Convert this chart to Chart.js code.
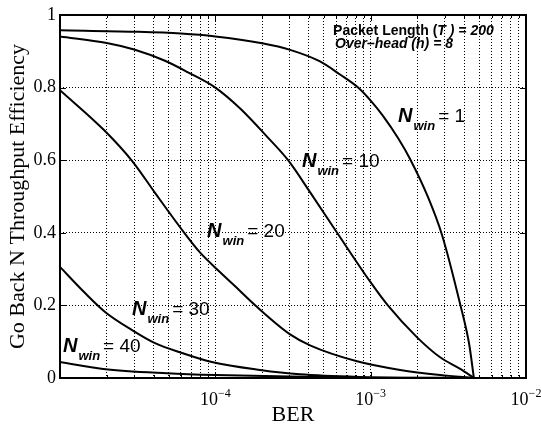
<!DOCTYPE html>
<html>
<head>
<meta charset="utf-8">
<script src="https://cdn.jsdelivr.net/npm/chart.js@4"></script>
<style>
  html, body { margin: 0; padding: 0; background: #fff; }
  canvas { display: block; }
</style>
</head>
<body>
<canvas id="effChart" width="541" height="426"></canvas>
<script>
// readings: BER (x) and throughput efficiency (y) per window size
var winSizes = [1, 10, 20, 30, 40];

var ber1 = [1e-5, 3e-5, 6e-5, 1e-4, 2e-4, 3.03e-4, 4.72e-4, 6.35e-4, 8.3e-4, 1e-3, 1.2e-3, 1.5e-3, 1.8e-3, 2.34e-3, 2.88e-3, 3.77e-3, 4.3e-3, 4.62e-3];
var eff1 = [0.958, 0.954, 0.949, 0.941, 0.922, 0.904, 0.872, 0.836, 0.80, 0.764, 0.722, 0.661, 0.602, 0.498, 0.394, 0.203, 0.095, 0];

var ber10 = [1e-5, 2e-5, 3e-5, 4.74e-5, 6.67e-5, 1e-4, 1.44e-4, 2.15e-4, 2.94e-4, 4.07e-4, 6.08e-4, 9.9e-4, 1.29e-3, 1.99e-3, 2.8e-3, 3.77e-3, 4.62e-3];
var eff10 = [0.941, 0.923, 0.905, 0.874, 0.842, 0.80, 0.743, 0.665, 0.60, 0.512, 0.40, 0.266, 0.20, 0.112, 0.057, 0.025, 0];

var ber20 = [1e-5, 1.92e-5, 2.95e-5, 4.09e-5, 6.31e-5, 7.96e-5, 1.07e-4, 1.3e-4, 1.85e-4, 3.03e-4, 4.07e-4, 8.17e-4, 1.55e-3, 2.8e-3, 4.62e-3];
var eff20 = [0.793, 0.683, 0.595, 0.51, 0.40, 0.346, 0.292, 0.258, 0.196, 0.12, 0.09, 0.046, 0.022, 0.008, 0];

var ber30 = [1e-5, 1.45e-5, 1.95e-5, 2.91e-5, 4.09e-5, 6.1e-5, 9.5e-5, 1.94e-4, 3.5e-4, 8.5e-4, 4.62e-3];
var eff30 = [0.306, 0.234, 0.182, 0.132, 0.096, 0.069, 0.044, 0.022, 0.010, 0.003, 0];

var ber40 = [1e-5, 1.9e-5, 4.9e-5, 1e-4, 3e-4, 1e-3, 4.62e-3];
var eff40 = [0.044, 0.025, 0.013, 0.008, 0.004, 0.001, 0];

// axes
var xDecades = [1e-5, 1e-4, 1e-3];
var xSteps = [2, 3, 4, 5, 6, 7, 8, 9];
var xMajor = [1e-4, 1e-3, 1e-2];
var xMajorExp = ['\u22124', '\u22123', '\u22122'];
var yTicks = [0, 0.2, 0.4, 0.6, 0.8, 1];

// where the curve labels sit (data coords of the "N" baseline start)
var labelBer = [1.5e-3, 3.61e-4, 8.85e-5, 2.91e-5, 1.045e-5];
var labelEff = [0.705, 0.581, 0.388, 0.174, 0.072];

var berSets = [ber1, ber10, ber20, ber30, ber40];
var effSets = [eff1, eff10, eff20, eff30, eff40];

var serif = '"Liberation Serif", "Times New Roman", Times, serif';
var sans = '"Liberation Sans", Arial, Helvetica, sans-serif';

var xMinor = [];
xDecades.forEach(function (d) {
  xSteps.forEach(function (s) { xMinor.push(s * d); });
});
var xGridTicks = xMinor.concat([1e-4, 1e-3]).sort(function (a, b) { return a - b; });

function series(ber, eff) {
  return ber.map(function (b, i) { return { x: b, y: eff[i] }; });
}

function drawNwin(ctx, x, y, value) {
  ctx.font = 'italic bold 20px ' + sans;
  ctx.fillText('N', x, y);
  x += ctx.measureText('N').width + 1;
  ctx.font = 'italic bold 13px ' + sans;
  ctx.fillText('win', x, y + 8);
  x += ctx.measureText('win').width + 3;
  ctx.font = '19px ' + sans;
  ctx.fillText('= ' + value, x, y);
}

var decor = {
  id: 'decor',
  afterDraw: function (chart) {
    var ctx = chart.ctx, a = chart.chartArea;
    var xs = chart.scales.x, ys = chart.scales.y;
    ctx.save();
    ctx.strokeStyle = '#000';
    ctx.fillStyle = '#000';

    // inward ticks, matlab style
    ctx.lineWidth = 1;
    ctx.beginPath();
    xMinor.forEach(function (v) {
      var px = Math.round(xs.getPixelForValue(v)) + 0.5;
      ctx.moveTo(px, a.bottom); ctx.lineTo(px, a.bottom - 3);
      ctx.moveTo(px, a.top); ctx.lineTo(px, a.top + 3);
    });
    xMajor.forEach(function (v) {
      var px = Math.round(xs.getPixelForValue(v)) + 0.5;
      ctx.moveTo(px, a.bottom); ctx.lineTo(px, a.bottom - 6);
      ctx.moveTo(px, a.top); ctx.lineTo(px, a.top + 6);
    });
    yTicks.forEach(function (v) {
      var py = Math.round(ys.getPixelForValue(v)) + 0.5;
      ctx.moveTo(a.left, py); ctx.lineTo(a.left + 6, py);
      ctx.moveTo(a.right, py); ctx.lineTo(a.right - 6, py);
    });
    ctx.stroke();

    // box
    ctx.lineWidth = 2;
    ctx.strokeRect(a.left, a.top, a.right - a.left, a.bottom - a.top);

    // x tick labels 10^n
    ctx.textBaseline = 'alphabetic';
    ctx.textAlign = 'left';
    xMajor.forEach(function (v, i) {
      var px = xs.getPixelForValue(v);
      ctx.font = '18px ' + serif;
      var w1 = ctx.measureText('10').width;
      ctx.font = '12px ' + serif;
      var w2 = ctx.measureText(xMajorExp[i]).width;
      var x0 = px - (w1 + w2) / 2;
      ctx.font = '18px ' + serif;
      ctx.fillText('10', x0, a.bottom + 27);
      ctx.font = '12px ' + serif;
      ctx.fillText(xMajorExp[i], x0 + w1, a.bottom + 19);
    });

    // curve labels
    winSizes.forEach(function (n, i) {
      drawNwin(ctx, xs.getPixelForValue(labelBer[i]), ys.getPixelForValue(labelEff[i]), n);
    });

    // parameter note
    var tx = xs.getPixelForValue(5.73e-4), ty = a.top + 20;
    ctx.font = 'bold 14px ' + sans;
    ctx.fillText('Packet Length (', tx, ty);
    var ox = tx + ctx.measureText('Packet Length (').width;
    ctx.font = 'italic bold 14px ' + sans;
    ctx.fillText('T', ox, ty);
    ox += ctx.measureText('T').width;
    ctx.fillText(' ) = 200', ox, ty);
    ctx.fillText('Over\u2013head (h) = 8', tx + 2, ty + 13);

    ctx.restore();
  }
};

var chart = new Chart(document.getElementById('effChart').getContext('2d'), {
  type: 'line',
  data: {
    datasets: winSizes.map(function (n, k) {
      return {
        label: 'N_win = ' + n,
        data: series(berSets[k], effSets[k]),
        borderColor: '#000',
        borderWidth: 2,
        pointRadius: 0,
        fill: false,
        cubicInterpolationMode: 'monotone'
      };
    })
  },
  options: {
    responsive: false,
    animation: false,
    layout: { padding: { top: 15, right: 15, left: 0, bottom: 0 } },
    plugins: { legend: { display: false }, tooltip: { enabled: false } },
    scales: {
      x: {
        type: 'logarithmic',
        min: 1e-5,
        max: 1e-2,
        afterBuildTicks: function (s) {
          s.ticks = xGridTicks.map(function (v) { return { value: v }; });
        },
        ticks: { autoSkip: false, maxRotation: 0, callback: function () { return ''; } },
        grid: { color: '#000', lineWidth: 1, drawTicks: false },
        border: { display: false, dash: [1, 2] },
        title: {
          display: true, text: 'BER', color: '#000',
          font: { family: serif, size: 22, lineHeight: 1 },
          padding: { top: 0, bottom: 0 }
        },
        afterFit: function (s) { s.height = 48; }
      },
      y: {
        min: 0,
        max: 1,
        afterBuildTicks: function (s) {
          s.ticks = yTicks.map(function (v) { return { value: v }; });
        },
        ticks: {
          color: '#000', padding: 4,
          font: { family: serif, size: 18 },
          callback: function (v) { return String(v); }
        },
        grid: { color: '#000', lineWidth: 1, drawTicks: false },
        border: { display: false, dash: [1, 2] },
        title: {
          display: true, text: 'Go Back N Throughput Efficiency', color: '#000',
          font: { family: serif, size: 22, lineHeight: 1 },
          padding: { top: 7, bottom: 0 }
        },
        afterFit: function (s) { s.width = 60; }
      }
    }
  },
  plugins: [decor]
});
</script>
</body>
</html>
